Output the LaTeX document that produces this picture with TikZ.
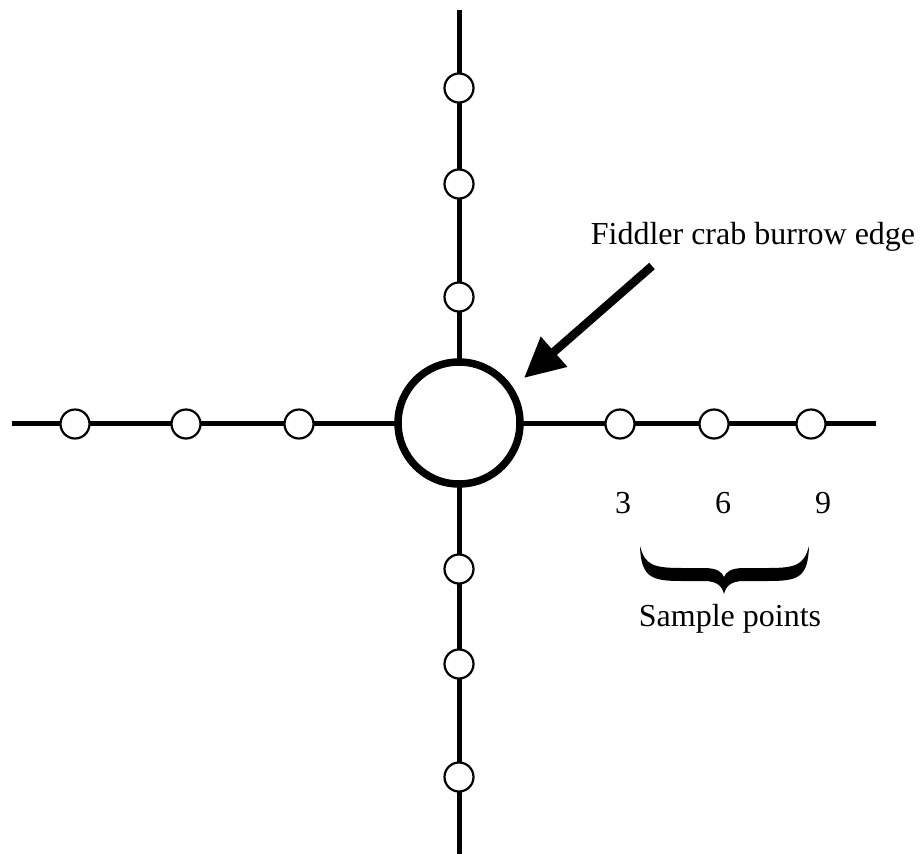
\documentclass[tikz,border=0pt]{standalone}
\usepackage{fontspec}
\setmainfont{Liberation Serif}
\usetikzlibrary{arrows.meta}
\tikzset{
  axis/.style={line width=5pt, black},
  sample/.style={circle, draw=black, fill=white, line width=2.2pt, minimum size=29pt, inner sep=0pt},
  burrow/.style={circle, draw=black, fill=white, line width=7.5pt, minimum size=122pt, inner sep=0pt},
  lbl/.style={font=\fontsize{32}{38}\selectfont, inner sep=0pt, anchor=base},
  pointer/.style={line width=8.5pt, -{Triangle[length=40pt,width=38pt]}}
}
\begin{document}
\begin{tikzpicture}[x=1pt,y=-1pt]
\useasboundingbox (0,0) rectangle (924,854);
\fill[white] (0,0) rectangle (924,854);
% axis end points
\coordinate (top) at (459,10);
\coordinate (bot) at (459,856);
\coordinate (lft) at (12,423);
\coordinate (rgt) at (876,423);
\draw[axis] (top) -- (bot);
\draw[axis] (lft) -- (rgt);
% burrow
\node[burrow] (c) at (459,423) {};
% sample points
\node[sample] (t1) at (459,88) {};
\node[sample] (t2) at (459,184) {};
\node[sample] (t3) at (459,297) {};
\node[sample] (b1) at (459,569) {};
\node[sample] (b2) at (459,664) {};
\node[sample] (b3) at (459,777) {};
\node[sample] (l1) at (75,424) {};
\node[sample] (l2) at (186,424) {};
\node[sample] (l3) at (299,424) {};
\node[sample] (r1) at (620,424) {};
\node[sample] (r2) at (714,424) {};
\node[sample] (r3) at (811,424) {};
% labels
\node[lbl] (n3) at (623,513) {3};
\node[lbl] (n6) at (723,513) {6};
\node[lbl] (n9) at (823,513) {9};
\node[lbl] (sp) at (730,626) {Sample points};
\node[lbl] (fc) at (753,244) {Fiddler crab burrow edge};
% arrow
\coordinate (as) at (652,266);
\coordinate (ae) at (524,378);
\draw[pointer] (as) -- (ae);
% brace
\fill[black] (640,546) .. controls (641,578) and (652,581) .. (682,581)
  -- (704,581) .. controls (717,581) and (722,586) .. (724,594)
  .. controls (726,586) and (731,581) .. (744,581)
  -- (768,581) .. controls (798,581) and (808,578) .. (809,546)
  .. controls (804,565) and (796,568) .. (768,568)
  -- (744,568) .. controls (731,568) and (726,572) .. (724,577)
  .. controls (722,572) and (717,568) .. (704,568)
  -- (682,568) .. controls (653,568) and (645,565) .. (640,546) -- cycle;
\end{tikzpicture}
\end{document}
